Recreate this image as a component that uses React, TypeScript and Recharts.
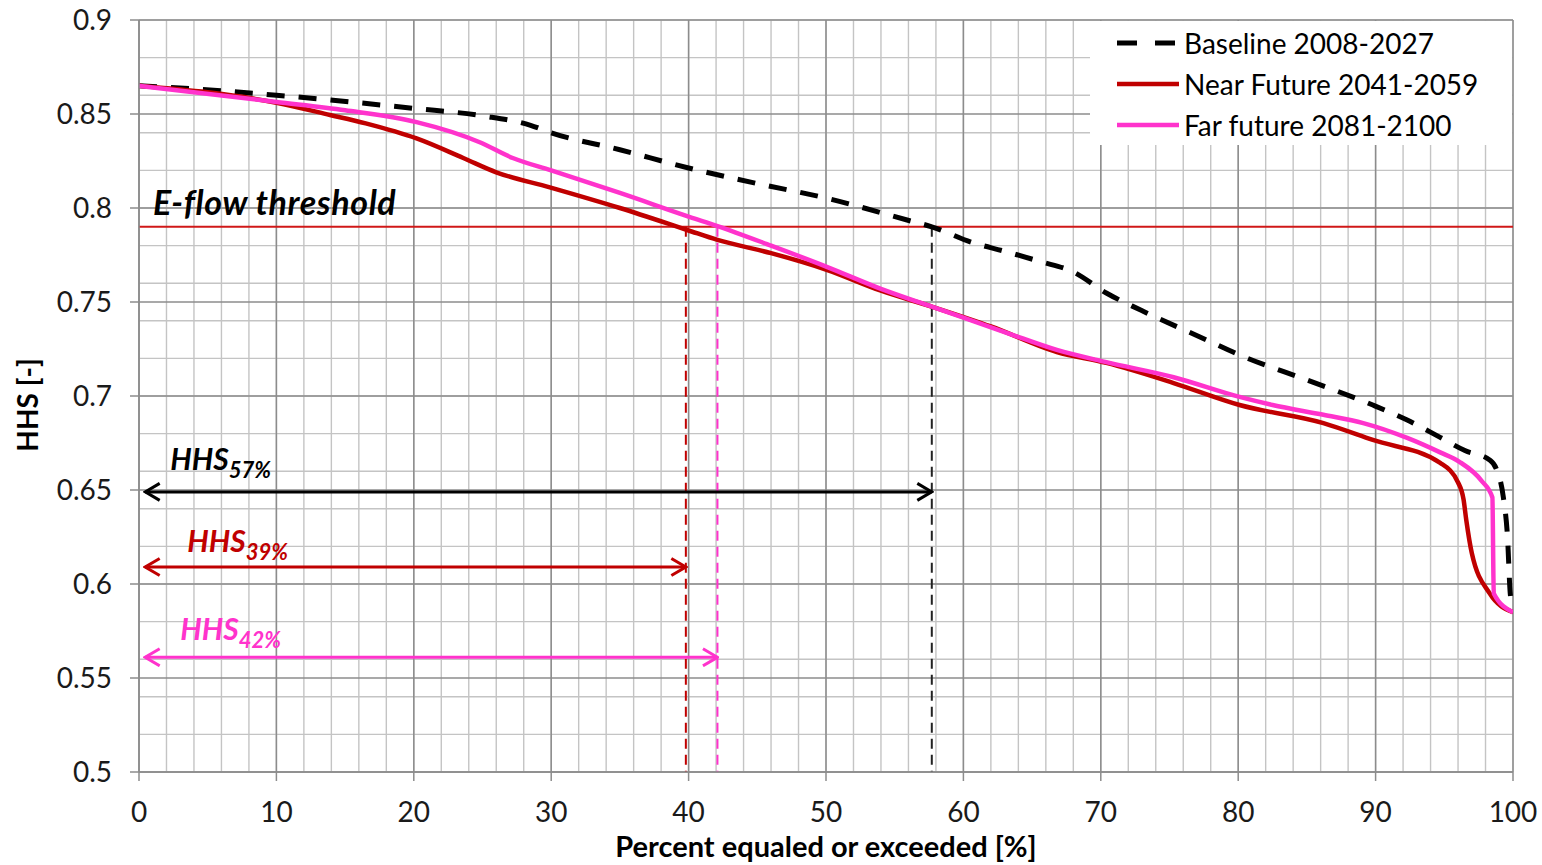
import React from 'react';
import { LineChart, Line, XAxis, YAxis, CartesianGrid, ReferenceLine, Legend } from 'recharts';

// ---------- data ----------
const baselinePct = [0, 1.7, 10, 20, 25, 28.5, 30, 35, 40, 45, 50, 55.9, 57.7, 60.7, 63, 65.6, 68, 70.4, 72.9, 77.7, 80.1, 85, 89.8, 92.3, 94.7, 96.5, 98.3, 98.8, 99.3, 99.6, 99.8, 100];
const baselineHhs = [0.865, 0.8644, 0.86, 0.853, 0.849, 0.844, 0.84, 0.831, 0.8213, 0.813, 0.8053, 0.7936, 0.79, 0.7815, 0.777, 0.7715, 0.766, 0.7548, 0.7457, 0.7298, 0.7218, 0.7085, 0.6952, 0.6872, 0.678, 0.671, 0.666, 0.661, 0.646, 0.625, 0.595, 0.587];

const nearPct = [0, 10, 13.9, 16.5, 20.2, 23.6, 26, 29.9, 35, 39.9, 42.1, 46, 50.1, 54, 57.8, 62, 66.8, 70.4, 75.3, 80.1, 86.2, 89.8, 94.7, 96.0, 96.4, 96.6, 97.0, 98.3, 100];
const nearHhs = [0.865, 0.856, 0.8495, 0.845, 0.837, 0.8266, 0.819, 0.811, 0.8, 0.7883, 0.783, 0.776, 0.767, 0.756, 0.7473, 0.737, 0.7234, 0.7176, 0.7069, 0.6952, 0.6856, 0.6766, 0.6644, 0.654, 0.645, 0.634, 0.6165, 0.595, 0.585];

const farPct = [0, 10, 15, 20.2, 24.8, 27.2, 30, 35, 40.1, 42.1, 46, 50.1, 54, 57.8, 63.2, 66.8, 70.4, 75.3, 80.1, 82.5, 86.2, 89.1, 92.3, 94.7, 96.1, 97.7, 98.5, 98.6, 100];
const farHhs = [0.865, 0.8564, 0.852, 0.8457, 0.835, 0.8266, 0.82, 0.808, 0.7952, 0.7904, 0.78, 0.7686, 0.757, 0.7473, 0.7335, 0.7245, 0.718, 0.71, 0.6995, 0.6952, 0.69, 0.6856, 0.6777, 0.67, 0.665, 0.655, 0.646, 0.595, 0.585];

const seriesNames = ['Baseline 2008-2027', 'Near Future 2041-2059', 'Far future 2081-2100'];
const seriesColors = ['#000000', '#c00000', '#ff33cc'];

const threshold = 0.79;
const thresholdLabel = 'E-flow threshold';

// crossing annotations: baseline, near, far
const crossPct = [57.7, 39.8, 42.1];
const arrowHhs = [0.649, 0.609, 0.561];
const arrowStartPct = [0.45, 0.45, 0.45];
const annotationMain = ['HHS', 'HHS', 'HHS'];
const annotationSub = ['57%', '39%', '42%'];
const annotationColors = ['#000000', '#c00000', '#ff33cc'];
const vLineColors = ['#222222', '#c00000', '#ff33cc'];

const xTicks = [0, 10, 20, 30, 40, 50, 60, 70, 80, 90, 100];
const yTicks = [0.5, 0.55, 0.6, 0.65, 0.7, 0.75, 0.8, 0.85, 0.9];
const xMinorTicks = Array.from({ length: 51 }, (_, i) => i * 2);
const yMinorTicks = Array.from({ length: 41 }, (_, i) => +(0.5 + i * 0.01).toFixed(2));

const zip = (xs: number[], ys: number[]) => xs.map((x, i) => ({ pct: x, hhs: ys[i] }));
const baselineData = zip(baselinePct, baselineHhs);
const nearData = zip(nearPct, nearHhs);
const farData = zip(farPct, farHhs);

const FONT = "Lato, 'Open Sans', sans-serif";

const ArrowLabel = (idx: number) => (props: any) => {
  const vb = props.viewBox || {};
  const offs = [
    { dx: 25, dy: -22 },
    { dx: 42, dy: -15 },
    { dx: 35, dy: -17 },
  ][idx];
  return (
    <text
      x={vb.x + offs.dx}
      y={vb.y + offs.dy}
      fill={annotationColors[idx]}
      fontFamily={FONT}
      fontWeight="bold"
      fontStyle="italic"
      fontSize={30}
    >
      {annotationMain[idx]}
      <tspan fontSize={22} dy={8}>{annotationSub[idx]}</tspan>
    </text>
  );
};

const arrowShape = (idx: number) => (p: any) => (
  <line
    x1={p.x1}
    y1={p.y1}
    x2={p.x2}
    y2={p.y2}
    stroke={annotationColors[idx]}
    strokeWidth={3}
    markerStart={`url(#arrow-${idx})`}
    markerEnd={`url(#arrow-${idx})`}
  />
);

const ThresholdLabel = (props: any) => {
  const vb = props.viewBox || {};
  return (
    <text
      x={vb.x + 14}
      y={vb.y - 12}
      fill="#000"
      fontFamily={FONT}
      fontWeight="bold"
      fontStyle="italic"
      fontSize={34}
      letterSpacing={0.6}
    >
      {thresholdLabel}
    </text>
  );
};

const YTitle = (props: any) => {
  const vb = props.viewBox || {};
  const cx = vb.x - 12;
  const cy = vb.y + vb.height / 2 + 9;
  return (
    <text
      x={cx}
      y={cy}
      transform={`rotate(-90, ${cx}, ${cy})`}
      textAnchor="middle"
      dominantBaseline="central"
      fontFamily={FONT}
      fontWeight="bold"
      fontSize={28}
      fill="#000"
    >
      HHS [-]
    </text>
  );
};

const XTitle = (props: any) => {
  const vb = props.viewBox || {};
  return (
    <text
      x={vb.x + vb.width / 2}
      y={vb.y + 85}
      textAnchor="middle"
      fontFamily={FONT}
      fontWeight="bold"
      fontSize={29}
      fill="#000"
    >
      Percent equaled or exceeded [%]
    </text>
  );
};

const LegendBox = () => (
  <div style={{ background: '#fff', width: '100%', height: '100%', boxSizing: 'border-box', paddingTop: 1 }}>
    {seriesNames.map((name, i) => (
      <div key={name} style={{ height: 41, display: 'flex', alignItems: 'center' }}>
        <svg width={62} height={10} style={{ marginLeft: 27, display: 'block' }}>
          <line
            x1={0}
            y1={5}
            x2={62}
            y2={5}
            stroke={seriesColors[i]}
            strokeWidth={i === 0 ? 5 : 4.5}
            strokeDasharray={i === 0 ? '20 18' : undefined}
          />
        </svg>
        <span style={{ marginLeft: 5, fontFamily: FONT, fontSize: 28, color: '#000', whiteSpace: 'nowrap', lineHeight: 1 }}>{name}</span>
      </div>
    ))}
  </div>
);

export default function App() {
  return (
    <div style={{ position: 'absolute', left: 0, top: 0, width: 1542, height: 865, background: '#fff' }}>
      <LineChart width={1542} height={865} margin={{ top: 20, right: 29, bottom: 33, left: 39 }}>
        <defs>
          {annotationColors.map((c, i) => (
            <marker
              key={i}
              id={`arrow-${i}`}
              viewBox="0 0 18 20"
              refX={16}
              refY={10}
              markerWidth={18}
              markerHeight={20}
              markerUnits="userSpaceOnUse"
              orient="auto-start-reverse"
            >
              <path d="M1.5,1.5 L16,10 L1.5,18.5" fill="none" stroke={c} strokeWidth={3} />
            </marker>
          ))}
        </defs>

        <XAxis xAxisId="minor" type="number" dataKey="pct" domain={[0, 100]} ticks={xMinorTicks} hide allowDataOverflow />
        <YAxis yAxisId="minor" type="number" domain={[0.5, 0.9]} ticks={yMinorTicks} hide allowDataOverflow />
        <CartesianGrid xAxisId="minor" yAxisId="minor" stroke="#c4c4c4" strokeWidth={1.4} />
        <CartesianGrid xAxisId="major" yAxisId="major" stroke="#8c8c8c" strokeWidth={1.5} />

        <XAxis
          xAxisId="major"
          type="number"
          dataKey="pct"
          domain={[0, 100]}
          ticks={xTicks}
          allowDataOverflow
          height={60}
          tickSize={9}
          tickMargin={21}
          axisLine={{ stroke: '#8c8c8c', strokeWidth: 1.5 }}
          tickLine={{ stroke: '#8c8c8c', strokeWidth: 1.5 }}
          tick={{ fill: '#1a1a1a', fontSize: 28, fontFamily: FONT }}
          label={<XTitle />}
        />
        <YAxis
          yAxisId="major"
          type="number"
          domain={[0.5, 0.9]}
          ticks={yTicks}
          allowDataOverflow
          width={100}
          tickSize={9}
          tickMargin={18}
          axisLine={{ stroke: '#8c8c8c', strokeWidth: 1.5 }}
          tickLine={{ stroke: '#8c8c8c', strokeWidth: 1.5 }}
          tick={{ fill: '#1a1a1a', fontSize: 28, fontFamily: FONT }}
          label={<YTitle />}
        />

        <ReferenceLine xAxisId="major" yAxisId="major" y={threshold} stroke="#d01818" strokeWidth={2} label={ThresholdLabel} />

        {crossPct.map((p, i) => (
          <ReferenceLine
            key={`v${i}`}
            xAxisId="major"
            yAxisId="major"
            segment={[{ x: p, y: threshold }, { x: p, y: 0.5 }]}
            stroke={vLineColors[i]}
            strokeWidth={2}
            strokeDasharray="10 6"
          />
        ))}

        {crossPct.map((p, i) => (
          <ReferenceLine
            key={`a${i}`}
            xAxisId="major"
            yAxisId="major"
            segment={[{ x: arrowStartPct[i], y: arrowHhs[i] }, { x: p, y: arrowHhs[i] }]}
            shape={arrowShape(i)}
            label={ArrowLabel(i)}
          />
        ))}

        <Line
          xAxisId="major"
          yAxisId="major"
          data={baselineData}
          dataKey="hhs"
          name={seriesNames[0]}
          type="monotone"
          stroke={seriesColors[0]}
          strokeWidth={5}
          strokeDasharray="18 14"
          dot={false}
          activeDot={false}
          isAnimationActive={false}
        />
        <Line
          xAxisId="major"
          yAxisId="major"
          data={nearData}
          dataKey="hhs"
          name={seriesNames[1]}
          type="monotone"
          stroke={seriesColors[1]}
          strokeWidth={4.5}
          dot={false}
          activeDot={false}
          isAnimationActive={false}
        />
        <Line
          xAxisId="major"
          yAxisId="major"
          data={farData}
          dataKey="hhs"
          name={seriesNames[2]}
          type="monotone"
          stroke={seriesColors[2]}
          strokeWidth={4.5}
          dot={false}
          activeDot={false}
          isAnimationActive={false}
        />

        <Legend
          layout="horizontal"
          verticalAlign="middle"
          align="center"
          content={<LegendBox />}
          wrapperStyle={{ left: 1090, top: 21, width: 422, height: 124, bottom: 'auto', right: 'auto' }}
        />
      </LineChart>
    </div>
  );
}
